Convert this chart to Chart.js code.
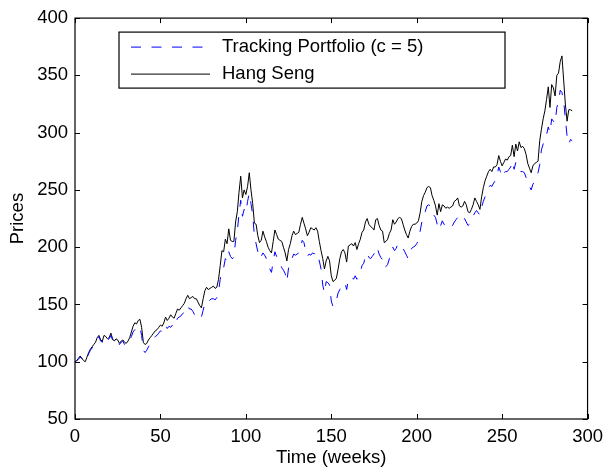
<!DOCTYPE html>
<html>
<head>
<meta charset="utf-8">
<script src="https://cdn.jsdelivr.net/npm/chart.js@4.4.1/dist/chart.umd.min.js"></script>
<style>
  html, body { margin: 0; padding: 0; background: #fff; }
  #wrap { width: 610px; height: 470px; }
</style>
</head>
<body>
<div id="wrap"><canvas id="chart" width="610" height="470"></canvas></div>
<script>
// weekly values (week 0 .. 291)
const hangSeng = [
  100, 101, 103, 105, 103, 101, 100, 104, 108, 111,
  113, 115, 117, 121, 123, 119, 118, 123, 122, 120,
  121, 125, 120, 118, 120, 119, 116, 118, 119, 117,
  116, 118, 121, 126, 131, 134, 133, 136, 137, 130,
  117, 115, 116, 119, 121, 123, 125, 127, 128, 130,
  132, 131, 134, 139, 136, 138, 141, 139, 138, 142,
  146, 145, 147, 149, 151, 155, 158, 155, 156, 157,
  155, 155, 152, 149, 147, 155, 162, 165, 163, 164,
  165, 166, 164, 165, 172, 184, 197, 196, 207, 203,
  216, 206, 205, 205, 222, 231, 248, 262, 243, 250,
  246, 253, 265, 250, 238, 221, 220, 210, 204, 206,
  214, 209, 205, 200, 197, 195, 205, 215, 211, 207,
  206, 205, 200, 195, 188, 198, 203, 210, 214, 211,
  212, 213, 220, 226, 221, 216, 210, 213, 217, 216,
  215, 217, 214, 205, 197, 190, 181, 188, 192, 188,
  175, 170, 171, 173, 181, 190, 196, 198, 195, 187,
  201, 202, 203, 201, 204, 198, 203, 207, 213, 215,
  222, 225, 220, 218, 217, 215, 224, 225, 219, 215,
  214, 204, 205, 207, 212, 215, 224, 220, 222, 225,
  226, 225, 220, 215, 211, 208, 214, 218, 220, 220,
  221, 223, 230, 240, 245, 248, 252, 253, 252, 245,
  241, 236, 228, 238, 231, 237, 236, 234, 235, 234,
  235, 236, 240, 241, 243, 236, 235, 236, 240, 237,
  231, 230, 233, 237, 243, 240, 237, 233, 244, 252,
  258, 262, 266, 268, 266, 270, 270, 272, 280, 275,
  271, 274, 277, 276, 279, 280, 289, 279, 290, 284,
  292, 287, 288, 286, 281, 273, 269, 265, 271, 273,
  274, 275, 293, 303, 312, 319, 329, 340, 322, 342,
  339, 332, 350, 352, 362, 367, 346, 325, 310, 320,
  320, 319
];

const tracking = [
  100, 101, 102, 104, 103, 101, 100, 103, 107, 110,
  112, 114, 116, 120, 122, 118, 117, 122, 121, 119,
  120, 123, 119, 117, 119, 117, 115, 117, 118, 115,
  114, 116, 119, 122, 126, 128, 127, 130, 130, 123,
  110, 108, 110, 113, 116, 118, 121, 122, 123, 125,
  127, 126, 128, 132, 129, 131, 130, 132, 130, 134,
  138, 139, 140, 142, 143, 146, 149, 146, 146, 144,
  141, 143, 142, 140, 139, 145, 151, 153, 152, 154,
  155, 155, 154, 156, 161, 172, 180, 182, 190, 188,
  196, 192, 190, 191, 206, 214, 229, 241, 227, 233,
  230, 240, 247, 238, 228, 210, 203, 196, 190, 192,
  195, 193, 190, 185, 181, 178, 188, 196, 192, 188,
  186, 182, 180, 177, 170, 182, 187, 190, 194, 193,
  194, 195, 200, 206, 204, 197, 192, 194, 193, 195,
  194, 196, 193, 188, 181, 167, 160, 170, 169, 167,
  153, 148, 150, 154, 160, 163, 166, 167, 169, 163,
  172, 173, 174, 172, 175, 172, 176, 178, 184, 186,
  192, 195, 191, 190, 192, 194, 200, 199, 194, 191,
  189, 182, 183, 185, 190, 193, 200, 197, 199, 203,
  203, 201, 199, 196, 193, 190, 195, 199, 200, 201,
  203, 206, 214, 222, 228, 231, 236, 237, 236, 230,
  228, 226, 220, 224, 219, 223, 220, 218, 219, 217,
  217, 219, 222, 224, 226, 224, 223, 222, 225, 222,
  219, 220, 223, 227, 230, 232, 230, 228, 235, 240,
  244, 248, 252, 254, 253, 256, 258, 262, 270, 266,
  261, 265, 266, 266, 268, 270, 275, 268, 274, 270,
  270, 266, 266, 265, 261, 256, 253, 250, 255, 257,
  260, 265, 272, 285, 290, 293, 298, 305, 300, 312,
  310, 308, 322, 327, 337, 335, 328, 312, 297, 290,
  294, 293
];

const weeks = hangSeng.map((v, i) => i);
const xTicks = [0, 50, 100, 150, 200, 250, 300];
const yTicks = [50, 100, 150, 200, 250, 300, 350, 400];

const FONT = { family: '"Liberation Sans", Arial, Helvetica, sans-serif', size: 18.5 };

// box round the axes, inward ticks on all sides, and the boxed legend (MATLAB look)
const matlabFrame = {
  id: 'matlabFrame',
  afterDraw(chart) {
    const ctx = chart.ctx;
    const a = chart.chartArea;
    const xs = chart.scales.x;
    const ys = chart.scales.y;
    const tl = 5;
    ctx.save();
    ctx.strokeStyle = '#000';
    ctx.lineWidth = 1.2;
    ctx.strokeRect(a.left, a.top, a.right - a.left, a.bottom - a.top);
    ctx.lineWidth = 1;
    ctx.beginPath();
    xTicks.forEach(v => {
      const px = Math.round(xs.getPixelForValue(v)) + 0.5;
      ctx.moveTo(px, a.bottom); ctx.lineTo(px, a.bottom - tl);
      ctx.moveTo(px, a.top); ctx.lineTo(px, a.top + tl);
    });
    yTicks.forEach(v => {
      const py = Math.round(ys.getPixelForValue(v)) + 0.5;
      ctx.moveTo(a.left, py); ctx.lineTo(a.left + tl, py);
      ctx.moveTo(a.right, py); ctx.lineTo(a.right - tl, py);
    });
    ctx.stroke();

    // legend
    const bx = a.left + 44, by = a.top + 14, bw = 386, bh = 56;
    ctx.fillStyle = '#fff';
    ctx.fillRect(bx, by, bw, bh);
    ctx.lineWidth = 1.2;
    ctx.strokeRect(bx, by, bw, bh);
    ctx.font = FONT.size + 'px ' + FONT.family;
    ctx.textBaseline = 'middle';
    chart.data.datasets.forEach((ds, i) => {
      const cy = by + 15 + i * 27;
      ctx.strokeStyle = ds.borderColor;
      ctx.lineWidth = ds.borderWidth;
      ctx.setLineDash(ds.borderDash || []);
      ctx.beginPath();
      ctx.moveTo(bx + 12, cy);
      ctx.lineTo(bx + 91, cy);
      ctx.stroke();
      ctx.setLineDash([]);
      ctx.fillStyle = '#000';
      ctx.fillText(ds.label, bx + 103, cy);
    });
    ctx.restore();
  }
};

new Chart(document.getElementById('chart'), {
  type: 'line',
  data: {
    labels: weeks,
    datasets: [
      {
        label: 'Tracking Portfolio (c = 5)',
        data: tracking,
        borderColor: '#0000ff',
        borderWidth: 1,
        borderDash: [10, 10.5],
        pointRadius: 0,
        tension: 0,
        fill: false
      },
      {
        label: 'Hang Seng',
        data: hangSeng,
        borderColor: '#000000',
        borderWidth: 1,
        pointRadius: 0,
        tension: 0,
        fill: false
      }
    ]
  },
  options: {
    responsive: false,
    animation: false,
    devicePixelRatio: 1,
    layout: { padding: { left: 0, top: 13, right: 22, bottom: 0 } },
    plugins: {
      legend: { display: false },
      tooltip: { enabled: false }
    },
    scales: {
      x: {
        type: 'linear',
        min: 0,
        max: 300,
        grid: { display: false, drawTicks: false },
        border: { display: false },
        ticks: {
          stepSize: 50,
          color: '#000',
          font: FONT,
          padding: 7,
          maxRotation: 0
        },
        title: {
          display: true,
          text: 'Time (weeks)',
          color: '#000',
          font: FONT,
          padding: { top: 0, bottom: 1 }
        },
        afterFit(scale) { scale.height = 51; }
      },
      y: {
        type: 'linear',
        min: 50,
        max: 400,
        grid: { display: false, drawTicks: false },
        border: { display: false },
        ticks: {
          stepSize: 50,
          color: '#000',
          font: FONT,
          padding: 7
        },
        title: {
          display: true,
          text: 'Prices',
          color: '#000',
          font: FONT,
          padding: { top: 7, bottom: 0 }
        },
        afterFit(scale) { scale.width = 75; }
      }
    }
  },
  plugins: [matlabFrame]
});
</script>
</body>
</html>
